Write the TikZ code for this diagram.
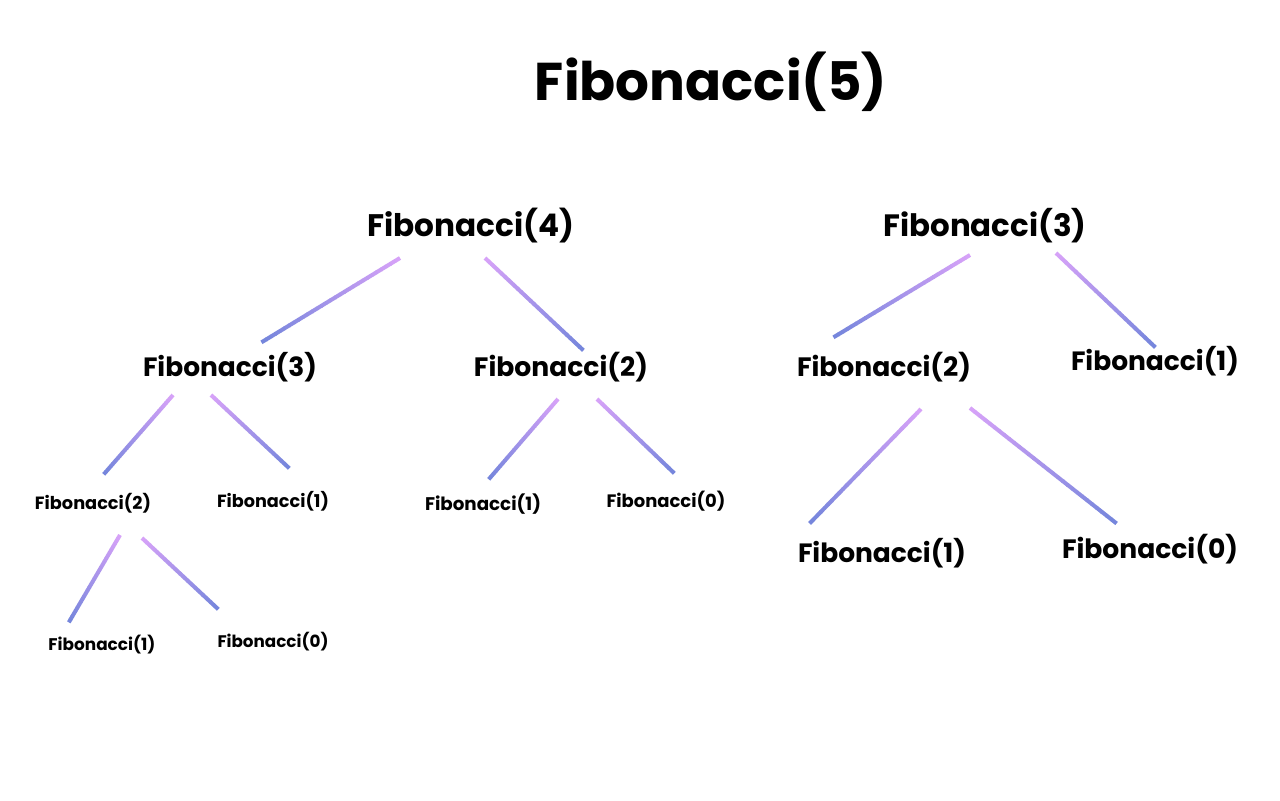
\documentclass[tikz,border=0pt]{standalone}
\usepackage{fontspec}
\setmainfont{Poppins}
\usetikzlibrary{calc}
\definecolor{topc}{RGB}{214,162,248}
\definecolor{botc}{RGB}{118,134,220}
\newcommand\fibtxt[2]{\resizebox{#1}{!}{\bfseries Fibonacci(#2)}}
\newcommand\gradline[2]{%
  \foreach \i in {0,...,29}{%
    \pgfmathsetmacro\pc{100-\i*100/29}%
    \draw[conn, draw=topc!\pc!botc] ($(#1)!{\i/30}!(#2)$) -- ($(#1)!{(\i+1)/30+0.004}!(#2)$);
  }}
\tikzset{
  conn/.style={line width=2pt},
  lbl/.style={inner sep=0pt, text=black},
}
\begin{document}
\begin{tikzpicture}[x=0.5pt,y=-0.5pt]
\useasboundingbox[fill=white] (0,0) rectangle (1280,800);
% nodes
\node[lbl] (t)   at (711,82)  {\fibtxt{176pt}{5}};
\node[lbl] (a4)  at (471,226) {\fibtxt{103.5pt}{4}};
\node[lbl] (b3)  at (985,226) {\fibtxt{101.5pt}{3}};
\node[lbl] (a3)  at (230,367) {\fibtxt{87pt}{3}};
\node[lbl] (a2)  at (561,367) {\fibtxt{87pt}{2}};
\node[lbl] (b2)  at (884,367) {\fibtxt{87pt}{2}};
\node[lbl] (b1)  at (1155,361) {\fibtxt{84pt}{1}};
\node[lbl] (c2)  at (93,503)  {\fibtxt{58pt}{2}};
\node[lbl] (c1)  at (273,501) {\fibtxt{56pt}{1}};
\node[lbl] (d1)  at (483,504) {\fibtxt{58pt}{1}};
\node[lbl] (d0)  at (666,501) {\fibtxt{59.5pt}{0}};
\node[lbl] (e1)  at (882,553) {\fibtxt{84pt}{1}};
\node[lbl] (e0)  at (1150,549) {\fibtxt{88pt}{0}};
\node[lbl] (f1)  at (102,645) {\fibtxt{53.5pt}{1}};
\node[lbl] (f0)  at (273,642) {\fibtxt{55.5pt}{0}};
% connector end points
\coordinate (a4s1) at (400,258); \coordinate (a3e) at (262,342);
\coordinate (a4s2) at (485,258); \coordinate (a2e) at (583,350);
\coordinate (b3s1) at (970,255); \coordinate (b2e) at (834,337);
\coordinate (b3s2) at (1056,253); \coordinate (b1e) at (1155,347);
\coordinate (a3s1) at (173,395); \coordinate (c2e) at (104,474);
\coordinate (a3s2) at (211,395); \coordinate (c1e) at (289,468);
\coordinate (a2s1) at (558,399); \coordinate (d1e) at (489,479);
\coordinate (a2s2) at (597,399); \coordinate (d0e) at (674,473);
\coordinate (b2s1) at (921,409); \coordinate (e1e) at (810,523);
\coordinate (b2s2) at (970,408); \coordinate (e0e) at (1116,523);
\coordinate (c2s1) at (120,535); \coordinate (f1e) at (69,622);
\coordinate (c2s2) at (142,538); \coordinate (f0e) at (218,609);
% connectors
\gradline{a4s1}{a3e}
\gradline{a4s2}{a2e}
\gradline{b3s1}{b2e}
\gradline{b3s2}{b1e}
\gradline{a3s1}{c2e}
\gradline{a3s2}{c1e}
\gradline{a2s1}{d1e}
\gradline{a2s2}{d0e}
\gradline{b2s1}{e1e}
\gradline{b2s2}{e0e}
\gradline{c2s1}{f1e}
\gradline{c2s2}{f0e}
\end{tikzpicture}
\end{document}
